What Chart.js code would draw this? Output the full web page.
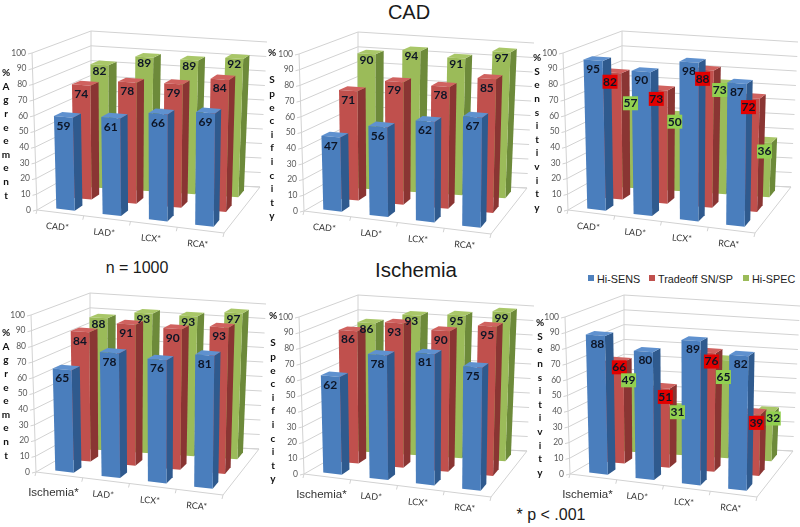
<!DOCTYPE html>
<html>
<head>
<meta charset="utf-8">
<script src="https://cdn.jsdelivr.net/npm/chart.js@4"></script>
<style>
  html, body { margin: 0; padding: 0; background: #fff; }
  #page { position: relative; width: 800px; height: 527px; overflow: hidden; font-family: "Liberation Sans", sans-serif; color: #1a1a1a; }
  #page canvas { position: absolute; filter: blur(0.4px); }
  .txt { position: absolute; white-space: nowrap; transform: translate(-50%, -50%); }
  .key { position: absolute; width: 6px; height: 6px; top: 275px; }
  .keytxt { position: absolute; top: 272px; font-size: 10.8px; line-height: 14px; white-space: nowrap; color: #222; }
</style>
</head>
<body>
<div id="page">
  <div class="txt" style="left:409px;top:12px;font-size:20px">CAD</div>
  <div class="txt" style="left:416px;top:270px;font-size:20.5px">Ischemia</div>
  <div class="txt" style="left:137px;top:268px;font-size:16px">n = 1000</div>
  <div class="txt" style="left:551px;top:515px;font-size:16px">* p &lt; .001</div>
  <div class="key" style="left:588px;background:#4f81bd"></div>
  <div class="keytxt" style="left:597px">Hi-SENS</div>
  <div class="key" style="left:649px;background:#c0504d"></div>
  <div class="keytxt" style="left:658px">Tradeoff SN/SP</div>
  <div class="key" style="left:743px;background:#9bbb59"></div>
  <div class="keytxt" style="left:752px">Hi-SPEC</div>
</div>
<script>
// data
const cadLabels = ['CAD*', 'LAD*', 'LCX*', 'RCA*'];
const ischemiaLabels = ['Ischemia*', 'LAD*', 'LCX*', 'RCA*'];
const seriesNames = ['Hi-SENS', 'Tradeoff SN/SP', 'Hi-SPEC'];

const cadAgreementSens = [59, 61, 66, 69];
const cadAgreementTrade = [74, 78, 79, 84];
const cadAgreementSpec = [82, 89, 89, 92];
const cadSpecificitySens = [47, 56, 62, 67];
const cadSpecificityTrade = [71, 79, 78, 85];
const cadSpecificitySpec = [90, 94, 91, 97];
const cadSensitivitySens = [95, 90, 98, 87];
const cadSensitivityTrade = [82, 73, 88, 72];
const cadSensitivitySpec = [57, 50, 73, 36];

const ischAgreementSens = [65, 78, 76, 81];
const ischAgreementTrade = [84, 91, 90, 93];
const ischAgreementSpec = [88, 93, 93, 97];
const ischSpecificitySens = [62, 78, 81, 75];
const ischSpecificityTrade = [86, 93, 90, 95];
const ischSpecificitySpec = [86, 93, 95, 99];
const ischSensitivitySens = [88, 80, 89, 82];
const ischSensitivityTrade = [66, 51, 76, 39];
const ischSensitivitySpec = [49, 31, 65, 32];

// look of the three rows of bars, front to back
const faceColors = ['#4a7ebd', '#c0504d', '#9bbb59'];
const sideColors = ['#2f5a8e', '#8a3533', '#6d8a3a'];
const topColors = ['#5f91cf', '#d0625f', '#a9c768'];
const boxColors = [null, '#e20000', '#92d050'];
const labelDrop = [9, 9, 6];
const rowDepth = [[0.10, 0.25], [0.43, 0.58], [0.76, 0.91]];

// hand placed value boxes in the sensitivity panels: [dx, dy] per row and category
const noNudge = [[0, 0], [0, 0], [0, 0], [0, 0]];
const cadBoxNudge = [noNudge, [[-2, 0], [-2, 0], [-2, 0], [-2, 0]], [[0, -5], [0, 0], [0, 0], [2, 3]]];
const ischBoxNudge = [[[2, 0], [2, 0], [2, 0], [2, 0]], [[5, -3], [5, 0], [5, 0], [5, 0]], [[-4, -4], [1, -2], [2, 11], [9, 0]]];
const flatNudge = [noNudge, noNudge, noNudge];

// corners of the 3D box, in canvas pixels of one panel
const floorFL = [37, 210], floorFR = [224, 233], floorBL = [91, 179], floorBR = [260, 187];
const roofFL = [32, 53], roofFR = [226, 66], roofBL = [91, 31], roofBR = [267, 42];

function mix(a, b, k) {
  return [a[0] + (b[0] - a[0]) * k, a[1] + (b[1] - a[1]) * k];
}

// u along the categories, w into the depth, t up the value axis (all 0..1)
function project(u, w, t) {
  const low = mix(mix(floorFL, floorFR, u), mix(floorBL, floorBR, u), w);
  const high = mix(mix(roofFL, roofFR, u), mix(roofBL, roofBR, u), w);
  return mix(low, high, t);
}

function fillQuad(ctx, pts, color) {
  ctx.fillStyle = color;
  ctx.beginPath();
  pts.forEach(function(p, i) { i ? ctx.lineTo(p[0], p[1]) : ctx.moveTo(p[0], p[1]); });
  ctx.closePath();
  ctx.fill();
}

function line(ctx, a, b) {
  ctx.beginPath();
  ctx.moveTo(a[0], a[1]);
  ctx.lineTo(b[0], b[1]);
  ctx.stroke();
}

// walls, floor, axis text
function drawBox(chart, opts) {
  const ctx = chart.ctx;
  const yScale = chart.scales.y;
  const xScale = chart.scales.x;
  const area = chart.chartArea;

  ctx.strokeStyle = '#d2d2d2';
  ctx.lineWidth = 1;
  yScale.ticks.forEach(function(tick) {
    const t = yScale.getDecimalForPixel(yScale.getPixelForValue(tick.value));
    const a = project(0, 0, t);
    line(ctx, [a[0] - 4, a[1] + 1], a);
    line(ctx, a, project(0, 1, t));
    line(ctx, project(0, 1, t), project(1, 1, t));
    ctx.fillStyle = '#5a5a5a';
    ctx.font = '8.5px Lato';
    ctx.textAlign = 'right';
    ctx.textBaseline = 'middle';
    ctx.fillText(tick.label, a[0] - 6, a[1]);
  });
  line(ctx, project(0, 0, 0), project(0, 0, 1));
  line(ctx, project(0, 1, 0), project(0, 1, 1));
  line(ctx, floorFL, floorFR);
  line(ctx, floorFR, floorBR);
  line(ctx, floorBL, floorBR);

  // category ticks and labels along the front edge
  const slot = (area.right - area.left) / xScale.ticks.length;
  xScale.ticks.forEach(function(tick, i) {
    const px = xScale.getPixelForTick(i);
    const u = (px - area.left) / (area.right - area.left);
    const p = project(u, 0, 0);
    const edge = project((px - slot / 2 - area.left) / (area.right - area.left), 0, 0);
    line(ctx, edge, [edge[0] - 1, edge[1] + 4]);
    ctx.save();
    ctx.fillStyle = '#333';
    ctx.textAlign = 'center';
    ctx.textBaseline = 'middle';
    if (tick.label === 'Ischemia*') {
      ctx.font = '11.5px "Liberation Sans"';
      ctx.fillText(tick.label, p[0] - 6, p[1] + 18);
    } else {
      ctx.translate(p[0] - 3, p[1] + 14);
      ctx.rotate(5 * Math.PI / 180);
      ctx.font = '9px Lato';
      ctx.fillText(tick.label, 0, 0);
    }
    ctx.restore();
  });
  const last = project(1, 0, 0);
  line(ctx, last, [last[0] - 1, last[1] + 4]);

  // stacked letters of the value axis title
  ctx.fillStyle = '#111';
  ctx.font = 'bold 10px Lato';
  ctx.textAlign = 'center';
  ctx.textBaseline = 'middle';
  Array.from(opts.title).forEach(function(ch, i) {
    ctx.fillText(ch, opts.titleX, opts.titleY + i * 13.6);
  });
}

function drawBars(chart, opts) {
  const ctx = chart.ctx;
  const area = chart.chartArea;
  const w = area.right - area.left;
  const h = area.bottom - area.top;
  const labels = [];

  // back row first so the front rows cover it
  for (let s = chart.data.datasets.length - 1; s >= 0; s--) {
    const bars = chart.getDatasetMeta(s).data;
    const d0 = rowDepth[s][0], d1 = rowDepth[s][1];
    bars.forEach(function(bar, i) {
      const u0 = (bar.x - bar.width / 2 - area.left) / w;
      const u1 = (bar.x + bar.width / 2 - area.left) / w;
      const t = (area.bottom - bar.y) / h;
      const a = project(u0, d0, t), b = project(u1, d0, t);
      fillQuad(ctx, [project(u1, d0, 0), project(u1, d1, 0), project(u1, d1, t), b], sideColors[s]);
      fillQuad(ctx, [a, b, project(u1, d1, t), project(u0, d1, t)], topColors[s]);
      fillQuad(ctx, [project(u0, d0, 0), project(u1, d0, 0), b, a], faceColors[s]);
      const nudge = opts.nudge[s][i];
      labels.push({
        x: (a[0] + b[0]) / 2 + nudge[0],
        y: (a[1] + b[1]) / 2 + labelDrop[s] + nudge[1],
        s: s,
        text: chart.data.datasets[s].data[i]
      });
    });
  }

  // value labels sit on top of everything, green boxes over the red ones
  ctx.font = 'bold 12px Lato';
  ctx.textAlign = 'center';
  ctx.textBaseline = 'middle';
  labels.reverse().forEach(function(l) {
    if (opts.boxed && boxColors[l.s]) {
      ctx.fillStyle = boxColors[l.s];
      ctx.fillRect(l.x - 7.5, l.y - 7, 15, 14);
    }
    ctx.fillStyle = '#0d1526';
    ctx.fillText(l.text, l.x, l.y);
  });
}

const box3d = {
  id: 'box3d',
  beforeDatasetsDraw: function(chart, args, opts) {
    drawBox(chart, opts);
    drawBars(chart, opts);
    return false;
  }
};

function addPanel(left, top, labels, sens, trade, spec, title, titleX, titleY, boxed, nudge) {
  const canvas = document.createElement('canvas');
  canvas.width = 270;
  canvas.height = 255;
  canvas.style.left = left + 'px';
  canvas.style.top = top + 'px';
  document.getElementById('page').appendChild(canvas);

  return new Chart(canvas.getContext('2d'), {
    type: 'bar',
    data: {
      labels: labels,
      datasets: [
        { label: seriesNames[0], data: sens, backgroundColor: faceColors[0] },
        { label: seriesNames[1], data: trade, backgroundColor: faceColors[1] },
        { label: seriesNames[2], data: spec, backgroundColor: faceColors[2] }
      ]
    },
    options: {
      responsive: false,
      animation: false,
      layout: { padding: 20 },
      datasets: { bar: { grouped: false, categoryPercentage: 1, barPercentage: 0.4 } },
      scales: {
        x: { display: false },
        y: { display: false, min: 0, max: 100, ticks: { stepSize: 10 } }
      },
      plugins: {
        legend: { display: false },
        tooltip: { enabled: false },
        box3d: { title: title, titleX: titleX, titleY: titleY, boxed: boxed, nudge: nudge }
      }
    },
    plugins: [box3d]
  });
}

addPanel(0, 0, cadLabels, cadAgreementSens, cadAgreementTrade, cadAgreementSpec, '%Agreement', 6, 73, false, flatNudge);
addPanel(267, 1, cadLabels, cadSpecificitySens, cadSpecificityTrade, cadSpecificitySpec, '% Specificity', 5, 52, false, flatNudge);
addPanel(531, 0, cadLabels, cadSensitivitySens, cadSensitivityTrade, cadSensitivitySpec, '%Sensitivity', 6, 58, true, cadBoxNudge);
addPanel(-1, 262, ischemiaLabels, ischAgreementSens, ischAgreementTrade, ischAgreementSpec, '%Agreement', 7, 71, false, flatNudge);
addPanel(267, 264, ischemiaLabels, ischSpecificitySens, ischSpecificityTrade, ischSpecificitySpec, '% Specificity', 6, 52, false, flatNudge);
addPanel(533, 264, ischemiaLabels, ischSensitivitySens, ischSensitivityTrade, ischSensitivitySpec, '%Sensitivity', 7, 59, true, ischBoxNudge);
</script>
</body>
</html>
